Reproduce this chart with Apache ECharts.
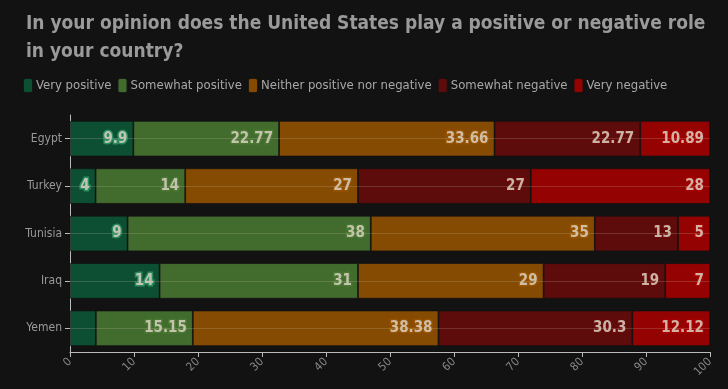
<!DOCTYPE html>
<html><head><meta charset="utf-8">
<script src="https://cdn.jsdelivr.net/npm/echarts@6/dist/echarts.min.js"></script>
<style>html,body{margin:0;padding:0;background:#121212}#c{width:728px;height:389px}</style>
</head><body><div id="c"></div>
<script>
const countries = ['Egypt','Turkey','Tunisia','Iraq','Yemen'];
const seriesNames = ['Very positive','Somewhat positive','Neither positive nor negative','Somewhat negative','Very negative'];
const veryPositive = [9.9, 4, 9, 14, 4.04];
const somewhatPositive = [22.77, 14, 38, 31, 15.15];
const neither = [33.66, 27, 35, 29, 38.38];
const somewhatNegative = [22.77, 27, 13, 19, 30.3];
const veryNegative = [10.89, 28, 5, 7, 12.12];
const hiddenLabels = [[4,0]]; // [categoryIndex, seriesIndex] with no label in reference
const xTicks = [0,10,20,30,40,50,60,70,80,90,100];

const colors = ['#0d5a38','#4a7a33','#9a5500','#6a0b0b','#aa0000'];
const borderCols = ['#2f9566','#4a7a33','#9a5500','#6a0b0b','#aa0000'];
const values = [veryPositive, somewhatPositive, neither, somewhatNegative, veryNegative];
const font = '"DejaVu Sans Condensed",sans-serif';

const series = values.map((vals, si) => ({
  name: seriesNames[si],
  type: 'bar',
  stack: 'total',
  barCategoryGap: '25%',
  itemStyle: {color: colors[si], opacity: 0.86, borderColor: '#111', borderWidth: 0.8},
  label: {
    show: true, position: 'insideRight', distance: 6,
    color: '#d9cfc0', fontWeight: 'bold', fontSize: 15, fontFamily: font,
    textBorderColor: borderCols[si], textBorderWidth: 3
  },
  data: vals.map((v, ci) => hiddenLabels.some(h => h[0]===ci && h[1]===si) ? {value: v, label: {show: false}} : v)
}));

const chart = echarts.init(document.getElementById('c'));
chart.setOption({
  backgroundColor: '#121212',
  animation: false,
  title: {
    text: 'In your opinion does the United States play a positive or negative role\nin your country?',
    left: 21, top: 5,
    textStyle: {color: '#9a9a9a', fontSize: 19, fontWeight: 'bold', lineHeight: 28, fontFamily: font}
  },
  legend: {
    data: seriesNames, left: 17, top: 72, icon: 'roundRect', itemWidth: 10, itemHeight: 15, itemGap: 5,
    textStyle: {color: '#a8a8a8', fontSize: 13, fontFamily: font, padding: [0, 0, 0, -2]}
  },
  grid: {left: 70, right: 18, top: 115, bottom: 37},
  xAxis: {
    type: 'value', min: 0, max: 100, interval: 10,
    axisLine: {show: true, lineStyle: {color: '#bbb'}},
    axisTick: {show: true, lineStyle: {color: '#bbb'}},
    splitLine: {show: false},
    axisLabel: {color: '#888', rotate: 45, fontSize: 11.5, fontFamily: font, formatter: v => xTicks.includes(v) ? String(v) : ''}
  },
  yAxis: [{
    type: 'category', data: countries, inverse: true,
    axisLine: {show: true, lineStyle: {color: '#bbb'}},
    axisTick: {show: true, alignWithLabel: true, lineStyle: {color: '#bbb'}},
    axisLabel: {color: '#999', fontSize: 12, fontFamily: font},
    splitLine: {show: false}
  }, {
    type: 'category', data: countries, inverse: true, position: 'right', z: 3,
    axisLine: {show: false}, axisLabel: {show: false}, splitLine: {show: false},
    axisTick: {show: true, alignWithLabel: true, inside: true, length: 640,
      lineStyle: {color: 'rgba(200,190,170,0.22)', width: 1}}
  }],
  series: series
});
</script></body></html>
